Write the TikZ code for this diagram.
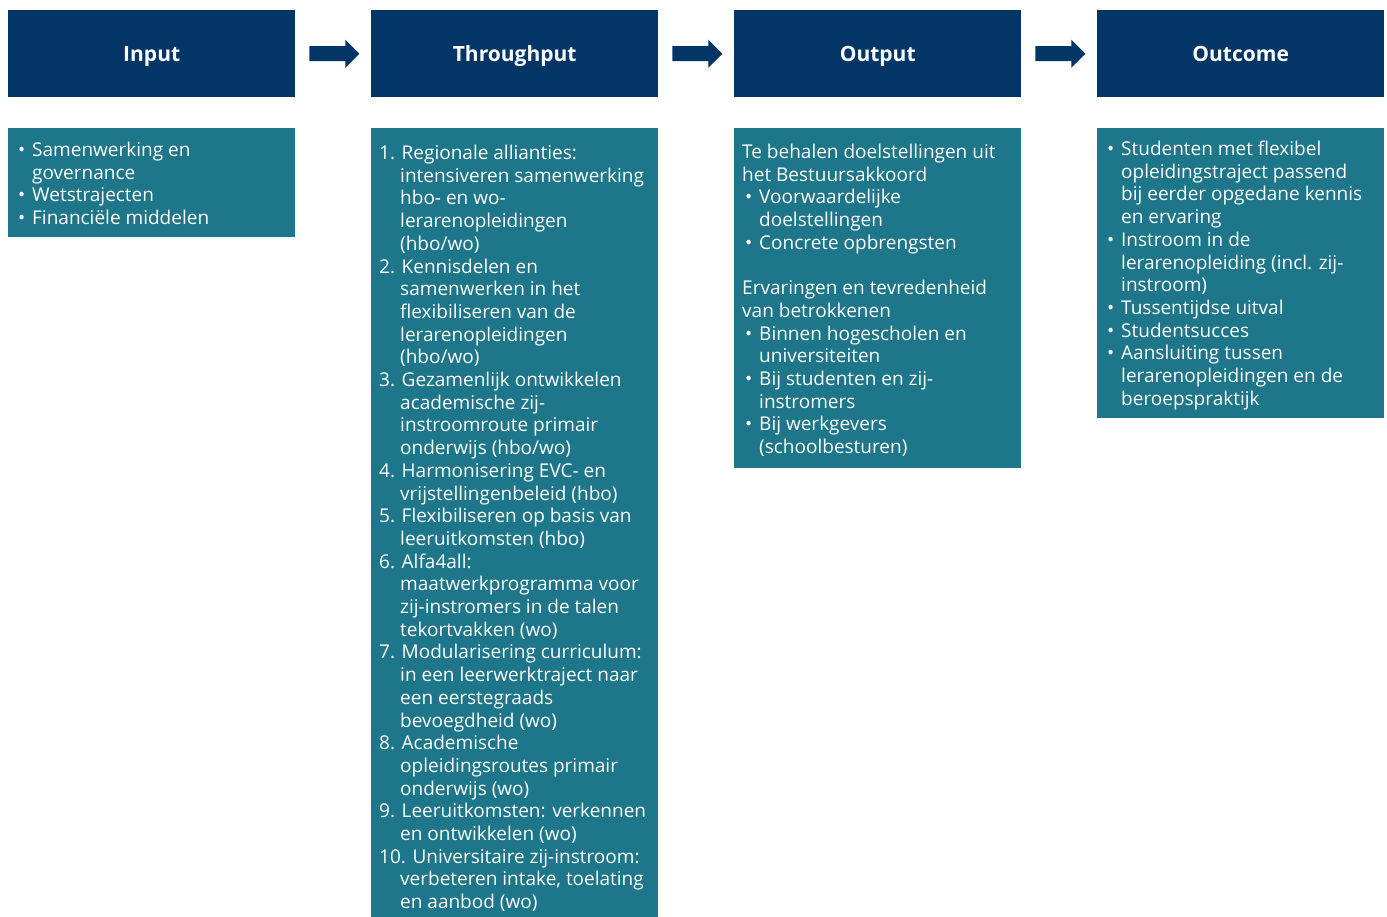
\documentclass[tikz,border=0pt]{standalone}
\usepackage{fontspec}
\setmainfont{Open Sans}
\definecolor{navyc}{RGB}{3,54,103}
\definecolor{tealc}{RGB}{29,118,137}
\newcommand\bul{\makebox[14pt][l]{•}}
\newcommand\ind{\hspace*{14pt}}
\newcommand\nind{\hspace*{21pt}}
\newcommand\bo{\hspace*{3pt}\bul}
\newcommand\ci{\hspace*{17pt}}
\begin{document}
\begin{tikzpicture}[x=1pt,y=-1pt,
  head/.style={fill=navyc, text=white, font=\fontsize{21}{25}\selectfont\bfseries,
    minimum width=287pt, minimum height=87pt, inner sep=0pt, anchor=north west,
    text height=15pt, text depth=0pt},
  body/.style={fill=tealc, inner sep=0pt, anchor=north west, minimum width=287pt},
  txt/.style={text=white, align=left, anchor=base west, inner sep=0pt,
    font=\fontsize{19}{22.7}\selectfont},
  blockarrow/.style={fill=navyc}]
\useasboundingbox (0,0) rectangle (1387,917);

\node[head] (h1) at (8,10) {Input};
\node[head] (h2) at (371,10) {Throughput};
\node[head] (h3) at (734,10) {Output};
\node[head] (h4) at (1097,10) {Outcome};

\foreach \a in {h1,h2,h3}{
  \fill[blockarrow] (\a.east) ++(14,-7.5) -- ++(36,0) -- ++(0,-6.5) -- ++(14,14)
    -- ++(-14,14) -- ++(0,-6.5) -- ++(-36,0) -- cycle;
}

\node[body, minimum height=109pt] (b1) at (8,128) {};
\node[body, minimum height=789pt] (b2) at (371,128) {};
\node[body, minimum height=340pt] (b3) at (734,128) {};
\node[body, minimum height=290pt] (b4) at (1097,128) {};

% anchor base = baseline of the last line
\node[txt] (t1) at (18,224.6) {\bul Samenwerking en\\\ind governance\\\bul Wetstrajecten\\\bul Financiële middelen};

\node[txt] (t2) at (379,908.6) {1. Regionale allianties:\\\nind intensiveren samenwerking\\\nind hbo- en wo-\\\nind lerarenopleidingen\\\nind (hbo/wo)\\
2. Kennisdelen en\\\nind samenwerken in het\\\nind flexibiliseren van de\\\nind lerarenopleidingen\\\nind (hbo/wo)\\
3. Gezamenlijk ontwikkelen\\\nind academische zij-\\\nind instroomroute primair\\\nind onderwijs (hbo/wo)\\
4. Harmonisering EVC- en\\\nind vrijstellingenbeleid (hbo)\\
5. Flexibiliseren op basis van\\\nind leeruitkomsten (hbo)\\
6. Alfa4all:\\\nind maatwerkprogramma voor\\\nind zij-instromers in de talen\\\nind tekortvakken (wo)\\
7. Modularisering curriculum:\\\nind in een leerwerktraject naar\\\nind een eerstegraads\\\nind bevoegdheid (wo)\\
8. Academische\\\nind opleidingsroutes primair\\\nind onderwijs (wo)\\
9. Leeruitkomsten: verkennen\\\nind en ontwikkelen (wo)\\
10. Universitaire zij-instroom:\\\nind verbeteren intake, toelating\\\nind en aanbod (wo)};

\node[txt] (t3) at (742,453.6) {Te behalen doelstellingen uit\\het Bestuursakkoord\\\bo Voorwaardelijke\\\ci doelstellingen\\\bo Concrete opbrengsten\\[22.7pt]Ervaringen en tevredenheid\\van betrokkenen\\\bo Binnen hogescholen en\\\ci universiteiten\\\bo Bij studenten en zij-\\\ci instromers\\\bo Bij werkgevers\\\ci (schoolbesturen)};

\node[txt] (t4) at (1107,405.2) {\bul Studenten met flexibel\\\ind opleidingstraject passend\\\ind bij eerder opgedane kennis\\\ind en ervaring\\\bul Instroom in de\\\ind lerarenopleiding (incl. zij-\\\ind instroom)\\\bul Tussentijdse uitval\\\bul Studentsucces\\\bul Aansluiting tussen\\\ind lerarenopleidingen en de\\\ind beroepspraktijk};
\end{tikzpicture}
\end{document}
